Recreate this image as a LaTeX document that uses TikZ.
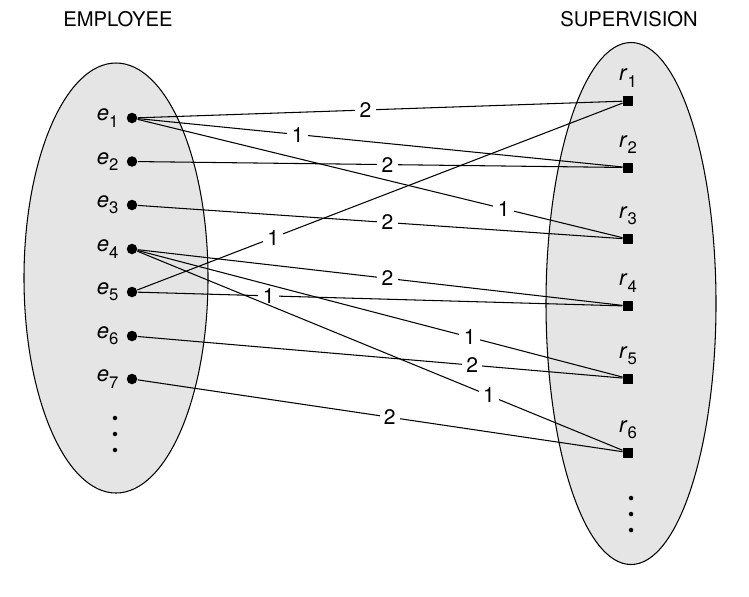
\documentclass[tikz,border=0pt]{standalone}
\usepackage{fontspec}
\setmainfont{TeX Gyre Heros}
\usetikzlibrary{positioning}
\newcommand{\sublbl}[2]{\textit{#1}\raisebox{-0.55ex}{\fontsize{9.5}{10}\selectfont #2}}

\tikzset{
	empdot/.style={circle,fill=black,inner sep=0pt,minimum size=0.21cm},
	supbox/.style={rectangle,fill=black,inner sep=0pt,minimum size=0.2cm},
	moredot/.style={circle,fill=black,inner sep=0pt,minimum size=0.09cm},
	wt/.style={fill=white,inner sep=2.5pt,font=\fontsize{12}{14}\selectfont},
	ptlbl/.style={font=\fontsize{12.5}{14}\selectfont},
	setlbl/.style={font=\fontsize{11.5}{13}\selectfont}
}

\begin{document}
\begin{tikzpicture}[x=0.02cm,y=-0.02cm,line width=0.6pt]
		\useasboundingbox (0,0) rectangle (749,596);

		\draw [fill=black!10] (116,278) ellipse [x radius=92, y radius=215];
		\draw [fill=black!10] (631,303.5) ellipse [x radius=85, y radius=261];

		\node[setlbl] (emptitle) at (118,19) {EMPLOYEE};
		\node[setlbl] (suptitle) at (629,19) {SUPERVISION};

		\node[empdot] (e1) at (132,118) {};
		\node[empdot] (e2) at (132,161.5) {};
		\node[empdot] (e3) at (132,205) {};
		\node[empdot] (e4) at (132,249) {};
		\node[empdot] (e5) at (132,292) {};
		\node[empdot] (e6) at (132,336) {};
		\node[empdot] (e7) at (132,379) {};
		\node[ptlbl,left=0.03cm of e1] (le1) {\sublbl{e}{1}};
		\node[ptlbl,left=0.03cm of e2] (le2) {\sublbl{e}{2}};
		\node[ptlbl,left=0.03cm of e3] (le3) {\sublbl{e}{3}};
		\node[ptlbl,left=0.03cm of e4] (le4) {\sublbl{e}{4}};
		\node[ptlbl,left=0.03cm of e5] (le5) {\sublbl{e}{5}};
		\node[ptlbl,left=0.03cm of e6] (le6) {\sublbl{e}{6}};
		\node[ptlbl,left=0.03cm of e7] (le7) {\sublbl{e}{7}};
		\node[moredot] (ed1) at (115,418) {};
		\node[moredot] (ed2) at (115,434) {};
		\node[moredot] (ed3) at (115,450) {};

		\node[supbox] (r1) at (628,101) {};
		\node[supbox] (r2) at (628,167.5) {};
		\node[supbox] (r3) at (628,239) {};
		\node[supbox] (r4) at (628,306) {};
		\node[supbox] (r5) at (628,378.5) {};
		\node[supbox] (r6) at (628,452.5) {};
		\node[ptlbl,above=0.04cm of r1] (lr1) {\sublbl{r}{1}};
		\node[ptlbl,above=0.04cm of r2] (lr2) {\sublbl{r}{2}};
		\node[ptlbl,above=0.04cm of r3] (lr3) {\sublbl{r}{3}};
		\node[ptlbl,above=0.04cm of r4] (lr4) {\sublbl{r}{4}};
		\node[ptlbl,above=0.04cm of r5] (lr5) {\sublbl{r}{5}};
		\node[ptlbl,above=0.04cm of r6] (lr6) {\sublbl{r}{6}};
		\node[moredot] (rd1) at (631,498) {};
		\node[moredot] (rd2) at (631,514) {};
		\node[moredot] (rd3) at (631,530) {};

		\draw (e1) -- node[wt,pos=0.47] {2} (r1);
		\draw (e1) -- node[wt,pos=0.33] {1} (r2);
		\draw (e1) -- node[wt,pos=0.755] {1} (r3);
		\draw (e2) -- node[wt,pos=0.515] {2} (r2);
		\draw (e3) -- node[wt,pos=0.515] {2} (r3);
		\draw (e5) -- node[wt,pos=0.28] {1} (r1);
		\draw (e4) -- node[wt,pos=0.515] {2} (r4);
		\draw (e5) -- node[wt,pos=0.27] {1} (r4);
		\draw (e4) -- node[wt,pos=0.685] {1} (r5);
		\draw (e6) -- node[wt,pos=0.69] {2} (r5);
		\draw (e4) -- node[wt,pos=0.725] {1} (r6);
		\draw (e7) -- node[wt,pos=0.52] {2} (r6);
\end{tikzpicture}
\end{document}
